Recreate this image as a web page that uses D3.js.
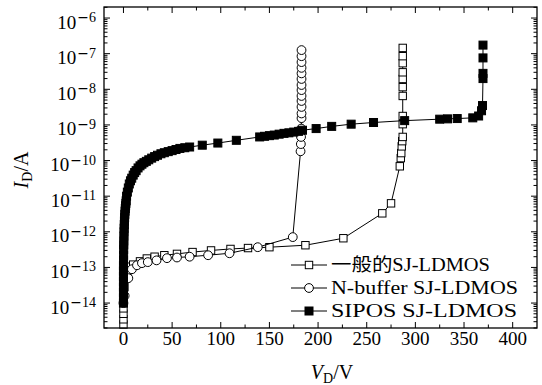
<!DOCTYPE html>
<html>
<head>
<meta charset="utf-8">
<script src="https://cdn.jsdelivr.net/npm/d3@7"></script>
<style>
  body { margin: 0; background: #fff; }
  svg { display: block; }
  .frame { fill: none; stroke: #000; stroke-width: 1.3; }
  .tick { stroke: #000; stroke-width: 1; }
  .curve { fill: none; stroke: #000; stroke-width: 1; }
  text { font-family: "Liberation Serif", "Noto Sans CJK SC", serif; fill: #000; }
</style>
</head>
<body>
<svg id="chart" width="542" height="385"></svg>
<script>
// 一般的SJ-LDMOS (open squares)
const vGeneral = [0, 0, 0, 0, 0, 0.3, 1, 2, 4, 7, 10, 17, 24, 32, 42, 55, 71, 90, 110, 128, 150, 187, 226, 266, 275,
  284, 285, 285.5, 286, 286.5, 287, 287, 287, 287, 287, 287, 287, 287, 287, 287];
const iGeneral = [2.5e-15, 3.5e-15, 5.0e-15, 7.1e-15, 1.0e-14, 1.6e-14, 2.8e-14, 5.0e-14, 7.6e-14, 1.05e-13, 1.2e-13,
  1.48e-13, 1.78e-13, 2.0e-13, 2.2e-13, 2.4e-13, 2.7e-13, 3.0e-13, 3.3e-13, 3.5e-13, 3.7e-13, 4.2e-13, 6.6e-13,
  3.3e-12, 6.3e-12, 6.9e-11, 1.17e-10, 1.62e-10, 2.5e-10, 3.5e-10, 4.6e-10, 1.05e-9, 1.78e-9, 6.5e-9, 1.15e-8,
  1.95e-8, 3.0e-8, 5.4e-8, 8.5e-8, 1.45e-7];

// N-buffer SJ-LDMOS (open circles)
const vBuffer = [0, 1.2, 5, 8.7, 13.9, 19, 25, 34, 44.7, 55, 68, 87, 109, 138, 174,
  182, 182.3, 182.5, 182.7, 183, 183, 183, 183, 183, 183, 183, 183, 183, 183, 183, 183, 183];
const iBuffer = [1.0e-14, 1.6e-14, 5.0e-14, 8.9e-14, 1.15e-13, 1.32e-13, 1.41e-13,
  1.58e-13, 1.82e-13, 1.9e-13, 2.0e-13, 2.2e-13, 2.5e-13, 3.7e-13, 7.1e-13,
  1.82e-10, 2.9e-10, 4.6e-10, 7.9e-10, 1.55e-9, 2.1e-9, 3.2e-9, 4.7e-9, 6.5e-9, 9.5e-9, 1.32e-8, 1.95e-8,
  2.8e-8, 4.0e-8, 5.8e-8, 8.5e-8, 1.26e-7];

// SIPOS SJ-LDMOS (filled squares)
const vSipos = [0, 0, 0, 0, 0, 0, 0, 0, 0.1, 0.15, 0.2, 0.3, 0.4, 0.5, 0.6, 0.7, 0.85, 1.0, 1.2, 1.4, 1.65, 1.9,
  2.2, 2.5, 2.8, 3.2, 4, 5, 6, 7.2, 8.5, 10, 11.5, 13, 15,
  17, 19, 21, 23.5, 26, 29, 32, 35, 38.5, 42, 46, 50, 54, 58, 63, 68, 81, 97, 116, 140, 145, 150, 155, 160, 165,
  170, 175, 180, 184, 198, 214, 234, 257, 289, 325, 333, 343, 359, 365, 368, 369, 369.5, 369.5, 369.5, 369.5];
const iSipos = [1.0e-14, 1.4e-14, 2.0e-14, 2.8e-14, 4.0e-14, 5.6e-14, 7.9e-14, 1.12e-13, 1.6e-13, 2.2e-13, 3.2e-13,
  4.3e-13, 5.6e-13, 7.6e-13, 1.0e-12, 1.26e-12, 1.6e-12, 2.0e-12, 2.5e-12, 3.1e-12, 3.8e-12, 4.5e-12,
  5.4e-12, 6.3e-12, 7.4e-12, 1.0e-11, 1.3e-11, 1.7e-11, 2.2e-11, 2.7e-11, 3.2e-11, 3.9e-11, 4.6e-11, 5.2e-11, 6.2e-11,
  7.1e-11, 7.9e-11, 8.7e-11, 9.5e-11, 1.05e-10, 1.17e-10, 1.29e-10, 1.41e-10, 1.55e-10, 1.66e-10, 1.78e-10,
  1.9e-10, 2.04e-10, 2.19e-10, 2.29e-10, 2.4e-10, 2.7e-10, 3.1e-10, 3.7e-10, 4.6e-10, 4.8e-10, 5.0e-10, 5.2e-10,
  5.5e-10, 5.8e-10, 6.0e-10, 6.3e-10, 6.6e-10, 7.1e-10, 7.9e-10, 9.1e-10, 1.05e-9, 1.17e-9, 1.32e-9, 1.45e-9,
  1.48e-9, 1.51e-9, 1.58e-9, 1.78e-9, 2.5e-9, 3.5e-9, 2.0e-8, 2.8e-8, 7.6e-8, 1.74e-7];

const xTicks = [0, 50, 100, 150, 200, 250, 300, 350, 400];
const yExponents = [-6, -7, -8, -9, -10, -11, -12, -13, -14];
const legendLabels = ['一般的SJ-LDMOS', 'N-buffer SJ-LDMOS', 'SIPOS SJ-LDMOS'];

const plotLeft = 104, plotRight = 537, plotTop = 7, plotBottom = 328;

const svg = d3.select('#chart');

const x = d3.scaleLinear().domain([-20, 425]).range([plotLeft, plotRight]);
const y = d3.scaleLog().domain([Math.pow(10, -14.7), Math.pow(10, -5.69)]).range([plotBottom, plotTop]);

// ticks (inward, mirrored on top / right)
const ticks = svg.append('g');
const xMinor = d3.range(-25, 426, 25).filter(v => x(v) > plotLeft && x(v) < plotRight);
xMinor.forEach(v => {
  const len = xTicks.includes(v) ? 6 : 3.5;
  ticks.append('line').attr('class', 'tick')
    .attr('x1', x(v)).attr('x2', x(v)).attr('y1', plotBottom).attr('y2', plotBottom - len);
  ticks.append('line').attr('class', 'tick')
    .attr('x1', x(v)).attr('x2', x(v)).attr('y1', plotTop).attr('y2', plotTop + len);
});

const yAll = [];
for (let e = -15; e <= -6; e++) {
  for (let m = 1; m <= 9; m++) yAll.push({ v: m * Math.pow(10, e), major: m === 1 });
}
yAll.filter(d => y(d.v) < plotBottom && y(d.v) > plotTop).forEach(d => {
  const len = d.major ? 6 : 3.5;
  ticks.append('line').attr('class', 'tick')
    .attr('x1', plotLeft).attr('x2', plotLeft + len).attr('y1', y(d.v)).attr('y2', y(d.v));
  ticks.append('line').attr('class', 'tick')
    .attr('x1', plotRight).attr('x2', plotRight - len).attr('y1', y(d.v)).attr('y2', y(d.v));
});

// x tick labels
svg.append('g').selectAll('text')
  .data(xTicks)
  .join('text')
    .attr('x', d => x(d))
    .attr('y', 345)
    .attr('text-anchor', 'middle')
    .attr('font-size', 19)
    .text(d => d);

// y tick labels: 10^e
const yLab = svg.append('g');
yExponents.forEach(e => {
  const ty = y(Math.pow(10, e));
  const sup = yLab.append('text')
      .attr('x', 96)
      .attr('y', ty + 4)
      .attr('text-anchor', 'end')
      .attr('font-size', 14);
  sup.append('tspan').attr('font-family', 'DejaVu Serif').text('\u2212');
  sup.append('tspan').text(String(-e));
  const w = sup.node().getComputedTextLength();
  yLab.append('text')
      .attr('x', 96 - w - 1)
      .attr('y', ty + 10.5)
      .attr('text-anchor', 'end')
      .attr('font-size', 19)
      .text('10');
});

// axis titles
const xt = svg.append('text')
    .attr('x', 332)
    .attr('y', 379)
    .attr('text-anchor', 'middle')
    .attr('font-size', 20);
xt.append('tspan').attr('font-style', 'italic').text('V');
xt.append('tspan').attr('font-size', 14).attr('dy', 4).text('D');
xt.append('tspan').attr('dy', -4).text('/V');

const yt = svg.append('text')
    .attr('transform', 'translate(28,170) rotate(-90)')
    .attr('text-anchor', 'middle')
    .attr('font-size', 20);
yt.append('tspan').attr('font-style', 'italic').text('I');
yt.append('tspan').attr('font-size', 14).attr('dy', 4).text('D');
yt.append('tspan').attr('dy', -4).text('/A');

// curves
const line = d3.line().x(d => x(d[0])).y(d => y(d[1]));
const series = [
  { v: vGeneral, i: iGeneral, shape: 'square', fill: '#fff' },
  { v: vBuffer, i: iBuffer, shape: 'circle', fill: '#fff' },
  { v: vSipos, i: iSipos, shape: 'square', fill: '#000' }
];

const drawMarker = (g, shape, fill, cx, cy) => {
  if (shape === 'circle') {
    g.append('circle').attr('cx', cx).attr('cy', cy).attr('r', 4.4)
      .attr('fill', fill).attr('stroke', '#000').attr('stroke-width', 1);
  } else {
    const s = fill === '#000' ? 8 : 7.4;
    g.append('rect').attr('x', cx - s / 2).attr('y', cy - s / 2).attr('width', s).attr('height', s)
      .attr('fill', fill).attr('stroke', '#000').attr('stroke-width', 1);
  }
};

series.forEach(s => {
  const pts = s.v.map((v, k) => [v, s.i[k]]);
  const g = svg.append('g');
  g.append('path').datum(pts).attr('class', 'curve').attr('d', line);
  pts.forEach(p => drawMarker(g, s.shape, s.fill, x(p[0]), y(p[1])));
});

// legend
const legendY = [265, 288, 311];
const legendW = [159, 187, 186];
series.forEach((s, k) => {
  const g = svg.append('g');
  g.append('line').attr('x1', 291).attr('x2', 327).attr('y1', legendY[k]).attr('y2', legendY[k])
    .attr('stroke', '#000').attr('stroke-width', 1);
  drawMarker(g, s.shape, s.fill, 309, legendY[k]);
  g.append('text')
    .attr('x', 331)
    .attr('y', legendY[k] + 6)
    .attr('font-size', 18)
    .attr('textLength', legendW[k])
    .attr('lengthAdjust', 'spacingAndGlyphs')
    .text(legendLabels[k]);
});

// frame
svg.append('rect').attr('class', 'frame')
  .attr('x', plotLeft).attr('y', plotTop).attr('width', plotRight - plotLeft).attr('height', plotBottom - plotTop);
</script>
</body>
</html>
